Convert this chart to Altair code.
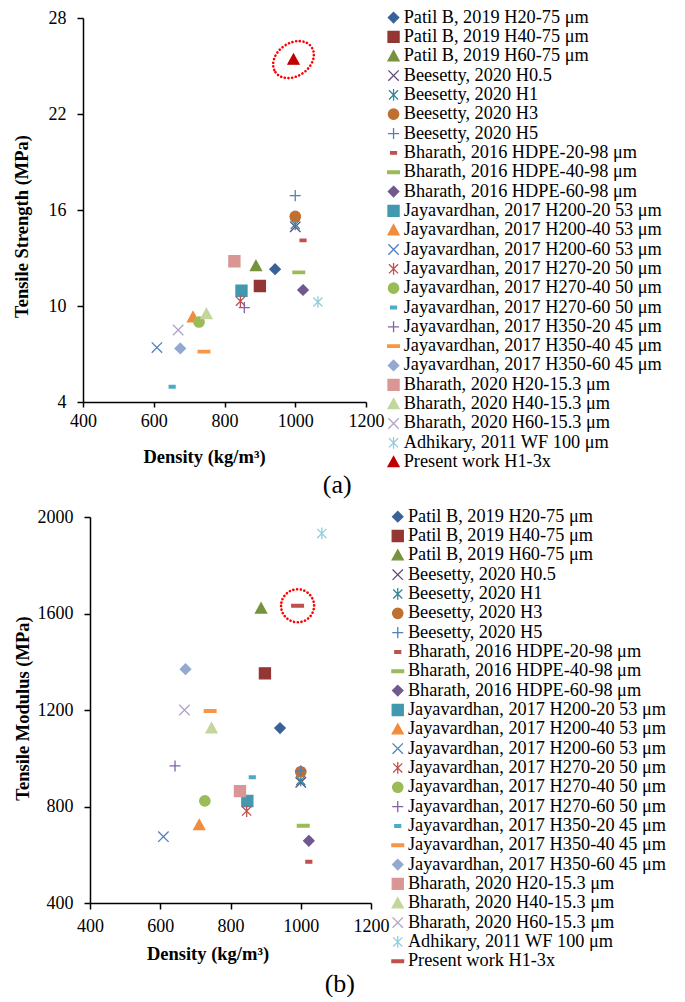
import altair as alt
import pandas as pd

series = [
    "Patil B, 2019 H20-75 μm",
    "Patil B, 2019 H40-75 μm",
    "Patil B, 2019 H60-75 μm",
    "Beesetty, 2020 H0.5",
    "Beesetty, 2020 H1",
    "Beesetty, 2020 H3",
    "Beesetty, 2020 H5",
    "Bharath, 2016 HDPE-20-98 μm",
    "Bharath, 2016 HDPE-40-98 μm",
    "Bharath, 2016 HDPE-60-98 μm",
    "Jayavardhan, 2017 H200-20 53 μm",
    "Jayavardhan, 2017 H200-40 53 μm",
    "Jayavardhan, 2017 H200-60 53 μm",
    "Jayavardhan, 2017 H270-20 50 μm",
    "Jayavardhan, 2017 H270-40 50 μm",
    "Jayavardhan, 2017 H270-60 50 μm",
    "Jayavardhan, 2017 H350-20 45 μm",
    "Jayavardhan, 2017 H350-40 45 μm",
    "Jayavardhan, 2017 H350-60 45 μm",
    "Bharath, 2020 H20-15.3 μm",
    "Bharath, 2020 H40-15.3 μm",
    "Bharath, 2020 H60-15.3 μm",
    "Adhikary, 2011 WF 100 μm",
    "Present work H1-3x",
]

# panel (a): tensile strength
density_a = [943, 900, 889, 1000, 1000, 1000, 1000, 1022, 1010, 1022, 848, 711, 609, 845,
             728, 652, 856, 742, 675, 828, 749, 669, 1064, 995]
strength_a = [12.3, 11.25, 12.5, 14.95, 15.1, 15.6, 16.9, 14.1, 12.1, 11.0, 10.95, 9.3, 7.4, 10.3,
              9.0, 4.95, 9.9, 7.15, 7.35, 12.8, 9.5, 8.5, 10.25, 25.4]

# panel (b): tensile modulus
density_b = [941, 898, 887, 1000, 1000, 1000, 1000, 1023, 1007, 1023, 848, 711, 609, 846,
             727, 642, 862, 742, 672, 827, 746, 669, 1060, 991]
modulus_b = [1125, 1352, 1621, 900, 908, 944, 948, 571, 720, 658, 823, 723, 675, 781,
             823, 968, 921, 1196, 1369, 864, 1124, 1200, 1932, 1632]

colors_a = ["#3A6196", "#943634", "#76923C", "#604A7B", "#31859C", "#C0702E", "#4F81BD",
            "#C0504D", "#9BBB59", "#71588F", "#4198AF", "#F08C3C", "#4F81BD", "#C0504D",
            "#9BBB59", "#4BACC6", "#8064A2", "#F79646", "#93A9D0", "#D99694", "#C3D69B",
            "#B3A2C7", "#93CDDD", "#C00000"]
colors_b = colors_a[:15] + ["#8064A2", "#4BACC6"] + colors_a[17:23] + ["#C0504D"]

shapes_a = ["diamond", "square", "triangle", "x", "asterisk", "circle", "plus", "dash_s",
            "dash_l", "diamond", "square", "triangle", "x", "asterisk", "circle", "dash_s",
            "plus", "dash_l", "diamond", "square", "triangle", "x", "asterisk", "triangle"]
shapes_b = shapes_a[:15] + ["plus", "dash_s"] + shapes_a[17:23] + ["dash_l"]

PATHS = {
    "diamond": "M0,-0.8L0.8,0L0,0.8L-0.8,0Z",
    "square": "M-0.85,-0.85H0.85V0.85H-0.85Z",
    "triangle": "M0,-0.85L0.85,0.7L-0.85,0.7Z",
    "circle": "M-0.8,0A0.8,0.8,0,1,0,0.8,0A0.8,0.8,0,1,0,-0.8,0Z",
    "x": "M-0.8,-0.8L0.8,0.8M-0.8,0.8L0.8,-0.8",
    "plus": "M0,-0.85V0.85M-0.85,0H0.85",
    "asterisk": "M-0.7,-0.7L0.7,0.7M-0.7,0.7L0.7,-0.7M0,-0.9V0.9",
    "dash_l": "M-0.9,-0.2H0.9V0.2H-0.9Z",
    "dash_s": "M-0.45,-0.2H0.45V0.2H-0.45Z",
}
ELLIPSE = "M-1,0A1,0.75,0,1,0,1,0A1,0.75,0,1,0,-1,0Z"
CIRCLE = "M-1,0A1,1,0,1,0,1,0A1,1,0,1,0,-1,0Z"

FONT = "Liberation Serif"
INDEP = dict(fill="independent", stroke="independent", shape="independent")


def panel(dens, vals, colors, shapes, ytitle, ydomain, yticks, w, h, xax, yax, legxy,
          ring_path, ring_size, ring_angle, label, label_offset):
    df = pd.DataFrame({"series": series, "density": dens, "value": vals,
                       "order": list(range(len(series)))})
    leg = alt.Legend(title=None, orient="none", legendX=legxy[0], legendY=legxy[1],
                     labelFont=FONT, labelFontSize=18.3, labelColor="black", labelLimit=600,
                     symbolSize=169, symbolStrokeWidth=1.3, rowPadding=0.33, padding=0,
                     labelOffset=1, symbolOffset=0, labelBaseline="middle",
                     direction="vertical", columns=1)
    x = alt.X("density:Q",
              scale=alt.Scale(domain=[400, 1200], nice=False, zero=False),
              axis=alt.Axis(values=[400, 600, 800, 1000, 1200], title="Density (kg/m³)",
                            format="d", labelFlush=False,
                            tickSize=xax["tick"], labelPadding=xax["pad"],
                            titleX=xax["tx"], titleY=xax["ty"], titleBaseline="middle",
                            titleAnchor="start", titleAlign="center"))
    y = alt.Y("value:Q",
              scale=alt.Scale(domain=ydomain, nice=False, zero=False),
              axis=alt.Axis(values=yticks, title=ytitle, tickSize=6, labelPadding=11,
                            format="d", labelFlush=False,
                            titleX=yax["tx"], titleY=yax["ty"], titleBaseline="middle",
                            titleAlign="center"))
    pts = alt.Chart(df).mark_point(filled=True, opacity=1, size=169, strokeWidth=1.3).encode(
        x=x, y=y,
        fill=alt.Fill("series:N", scale=alt.Scale(domain=series, range=colors), legend=leg),
        stroke=alt.Stroke("series:N", scale=alt.Scale(domain=series, range=colors), legend=leg),
        shape=alt.Shape("series:N",
                        scale=alt.Scale(domain=series, range=[PATHS[s] for s in shapes]),
                        legend=leg),
        order=alt.Order("order:Q"),
    )
    ring = alt.Chart(df).transform_filter(alt.datum.series == series[-1]).mark_point(
        shape=ring_path, size=ring_size, angle=ring_angle, filled=False, stroke="#FF0000",
        strokeWidth=2.6, strokeDash=[0.1, 3.6], strokeCap="round", opacity=1
    ).encode(x="density:Q", y="value:Q")
    return alt.layer(pts, ring).properties(
        width=w, height=h,
        title=alt.TitleParams(label, orient="bottom", anchor="middle", frame="bounds",
                              font=FONT, fontSize=26, fontWeight="normal", color="black",
                              offset=label_offset),
    )


def spacer(w):
    return alt.Chart(pd.DataFrame({"v": [0]})).mark_point(size=0, opacity=0).encode(
        x=alt.value(0), y=alt.value(0)).properties(width=w, height=1)


chart_a = panel(density_a, strength_a, colors_a, shapes_a, "Tensile Strength (MPa)",
                [4, 28], [4, 10, 16, 22, 28], 283, 384,
                {"tick": 5, "pad": 5, "tx": 121, "ty": 54},
                {"tx": -62, "ty": 208},
                (301.4, -9.6), ELLIPSE, 1936, 325, "(a)", 1)
chart_b = panel(density_b, modulus_b, colors_b, shapes_b, "Tensile Modulus (MPa)",
                [400, 2000], [400, 800, 1200, 1600, 2000], 281, 386,
                {"tick": 6, "pad": 8, "tx": 117.5, "ty": 50},
                {"tx": -68, "ty": 191},
                (298.6, -9.5), CIRCLE, 1089, 0, "(b)", 0)

row_a = alt.hconcat(spacer(1), chart_a, spacing=0).resolve_scale(**INDEP).resolve_legend(**INDEP)
row_b = alt.hconcat(spacer(2), chart_b, spacing=0).resolve_scale(**INDEP).resolve_legend(**INDEP)

chart = alt.vconcat(row_a, row_b, spacing=8).resolve_scale(
    x="independent", y="independent", **INDEP
).resolve_legend(**INDEP).properties(
    padding={"left": 3, "top": 0, "right": 0, "bottom": 0},
    background="white",
).configure_view(stroke=None).configure_axis(
    grid=False, domainColor="black", tickColor="black", domainWidth=1.5, tickWidth=1.5,
    labelFont=FONT, labelFontSize=18, labelColor="black",
    titleFont=FONT, titleFontSize=18.5, titleFontWeight="bold", titleColor="black",
)

chart.save("out.html", embed_options={"renderer": "svg", "actions": False})
